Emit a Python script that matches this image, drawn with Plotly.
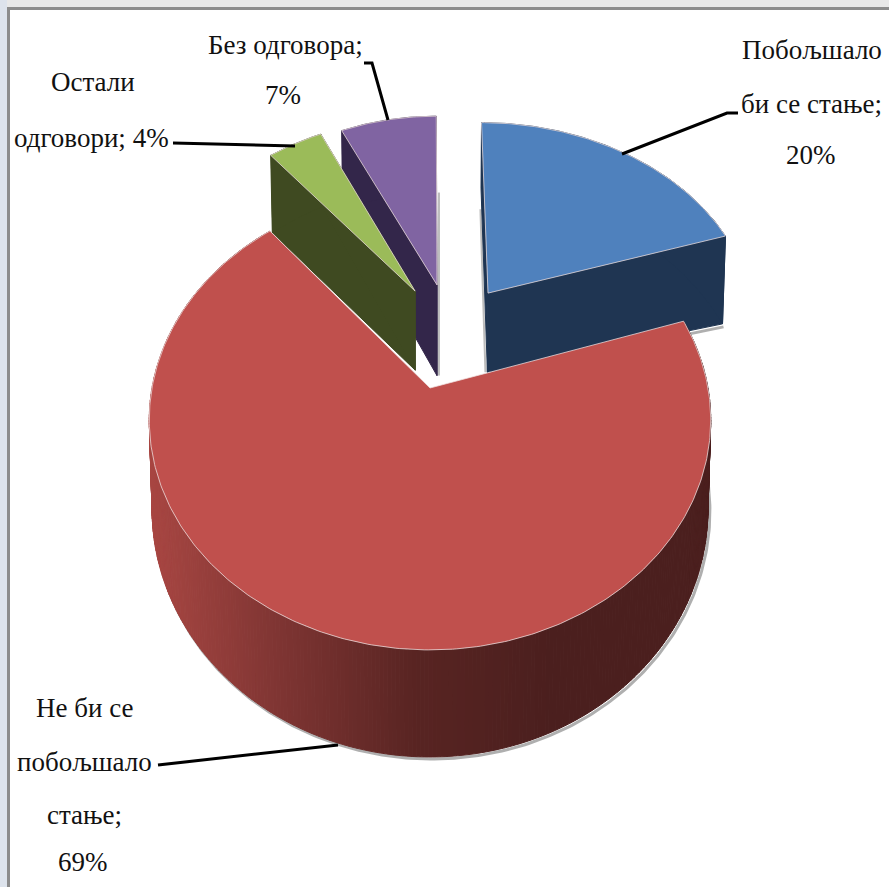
import numpy as np
import plotly.graph_objects as go

# ---------- data ----------
categories = ["Побољшало би се стање", "Не би се побољшало стање", "Остали одговори", "Без одговора"]
values = [20, 69, 4, 7]
label_lines = [
    ["Побољшало", "би се стање;", "{v}%"],
    ["Не би се", "побољшало", "стање;", "{v}%"],
    ["Остали", "одговори; {v}%"],
    ["Без одговора;", "{v}%"],
]

# ---------- style ----------
top_colors = ["#4F81BD", "#C0504D", "#9BBB59", "#8064A2"]
wall_colors = ["#1F3552", "#4B1F1E", "#3F4A21", "#33264A"]
explode = [(0.2216, -0.447), (0.0, 0.0), (-0.057, -0.457), (0.027, -0.488)]
radius_u = [1.0, 1.0, 0.96, 0.95]
radius_v = [0.96, 1.0, 0.97, 0.96]
depth_extra = [-3.2, 0, -0.9, 12]
depth_tilt = [0.055, 0, -0.062, 0]
draw_order = [3, 2, 0, 1]
CX, CY, FA, FB, K = 430.0, 388.0, 278.0, 225.5, 0.139
label_pos = [
    [(812, 50), (811, 104), (811, 155)],
    [(84, 708), (84, 762), (84, 815), (83, 862)],
    [(93, 82), (91, 138)],
    [(285, 45), (283, 95)],
]
leaders = [
    [(622, 154), (727, 113), (738, 113)],
    [(338, 745), (180, 763), (158, 765)],
    [(295, 146), (173, 143)],
    [(388, 120), (372, 63), (364, 63)],
]
FONT = "Liberation Serif"
FONT_SIZE = 27
SHADOW = "rgba(110,110,110,0.55)"


def project(u, v):
    d = 1 - K * v
    return CX + FA * u / d, CY + FB * v / d


def drop(x, y, i):
    """Same point on the lower rim of the slice."""
    return (CX + (x - CX) * 0.99,
            y + 79 + (y - 290) * 0.078 + depth_extra[i] + depth_tilt[i] * (x - CX))


def poly(xs, ys, fill, line=None, width=1):
    return go.Scatter(x=list(xs), y=list(ys), mode="lines", fill="toself", fillcolor=fill,
                      line=dict(color=line or fill, width=width), hoverinfo="skip", showlegend=False)


def stroke(xs, ys, color, width):
    return go.Scatter(x=list(xs), y=list(ys), mode="lines", hoverinfo="skip", showlegend=False,
                      line=dict(color=color, width=width))


def lerp_hex(stops, t):
    t = min(max(t, 0), 1) * (len(stops) - 1)
    i = min(int(t), len(stops) - 2)
    a, b = stops[i], stops[i + 1]
    f = t - i
    c = [round(a[j] + (b[j] - a[j]) * f) for j in range(3)]
    return "rgb(%d,%d,%d)" % tuple(c)


red_grad = [(168, 70, 66), (125, 52, 50), (88, 36, 34), (75, 31, 30)]

fig = go.Figure()

total = sum(values)
starts = np.cumsum([0] + values[:-1]) / total * 2 * np.pi
spans = np.array(values) / total * 2 * np.pi

for i in draw_order:
    ou, ov = explode[i]
    th = np.linspace(starts[i], starts[i] + spans[i], max(int(values[i] * 5), 24))
    px, py = project(ou + radius_u[i] * np.sin(th), ov - radius_v[i] * np.cos(th))
    ax, ay = project(ou, ov)
    bx, by = drop(px, py, i)
    abx, aby = drop(ax, ay, i)

    if i == 1:
        fig.add_trace(stroke(bx + 2, by + 2, SHADOW, 3))
        for j in range(len(th) - 1):
            xm = (px[j] + px[j + 1]) / 2
            col = lerp_hex(red_grad, (xm - 150) / 400)
            fig.add_trace(poly([px[j], px[j + 1], bx[j + 1], bx[j], px[j]],
                               [py[j], py[j + 1], by[j + 1], by[j], py[j]], col))
    else:
        if i == 0:
            fig.add_trace(stroke([abx + 1, bx[-1] + 1], [aby + 3, by[-1] + 3], SHADOW, 3))
            fig.add_trace(stroke([abx - 7, abx - 2], [aby - 163, aby], "#BDBDBD", 2))
        for e in (0, -1):
            fig.add_trace(poly([ax, px[e], bx[e], abx, ax], [ay, py[e], by[e], aby, ay], wall_colors[i]))
        fig.add_trace(poly(list(px) + list(bx[::-1]), list(py) + list(by[::-1]), wall_colors[i]))
        if i == 3:
            fig.add_trace(stroke([abx + 2, abx + 2], [aby - 183, aby], "#BDBDBD", 2))

    fig.add_trace(poly([ax] + list(px) + [ax], [ay] + list(py) + [ay], top_colors[i],
                       line="rgba(240,225,225,0.75)", width=1))

# labels
annotations = []
for lines, pos, v in zip(label_lines, label_pos, values):
    for text, (x, y) in zip(lines, pos):
        annotations.append(dict(x=x, y=y, xref="x", yref="y", text=text.format(v=v), showarrow=False,
                                xanchor="center", yanchor="middle",
                                font=dict(family=FONT, size=FONT_SIZE, color="#111111")))

# leader lines
for pts in leaders:
    fig.add_trace(stroke([p[0] for p in pts], [p[1] for p in pts], "#000000", 3))

# window-like frame
shapes = [
    dict(type="rect", xref="x", yref="y", x0=0, x1=889, y0=0, y1=7, fillcolor="#E8E8E8", line_width=0, layer="below"),
    dict(type="rect", xref="x", yref="y", x0=0, x1=7, y0=0, y1=887, fillcolor="#DDE3EC", line_width=0, layer="below"),
    dict(type="rect", xref="x", yref="y", x0=7, x1=889, y0=7, y1=10, fillcolor="#8C8C8C", line_width=0, layer="below"),
    dict(type="rect", xref="x", yref="y", x0=7, x1=10, y0=7, y1=887, fillcolor="#8C8C8C", line_width=0, layer="below"),
]

fig.update_layout(
    width=889, height=887, margin=dict(l=0, r=0, t=0, b=0),
    paper_bgcolor="white", plot_bgcolor="white", showlegend=False,
    xaxis=dict(range=[0, 889], visible=False, fixedrange=True),
    yaxis=dict(range=[887, 0], visible=False, fixedrange=True),
    annotations=annotations, shapes=shapes,
)
fig.write_html("out.html", config=dict(displayModeBar=False),
               post_script="document.body.style.margin='0';document.body.style.overflow='hidden';")
